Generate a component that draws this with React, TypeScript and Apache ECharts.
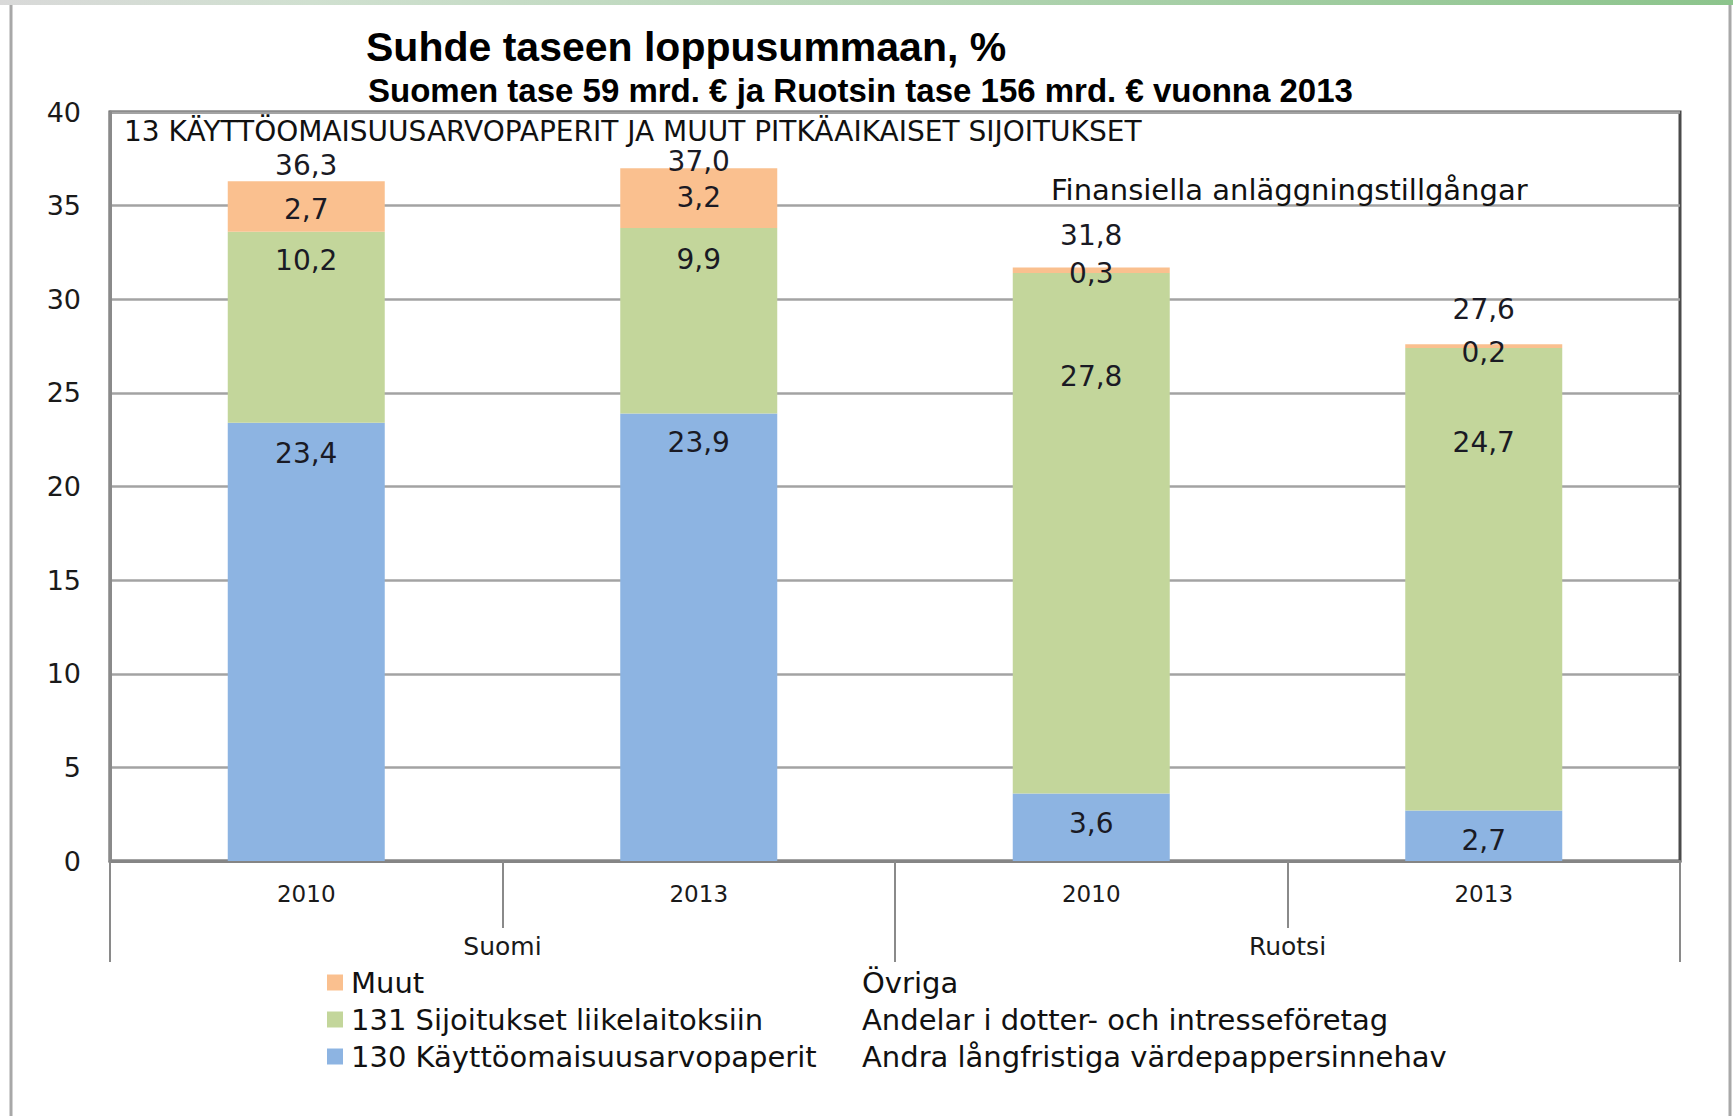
import React, { useEffect, useRef } from 'react';
import * as echarts from 'echarts';

// ---- data ----
const years = ['2010', '2013', '2010', '2013'];
const countries = ['Suomi', 'Ruotsi'];
const seriesNames = ['130 Käyttöomaisuusarvopaperit', '131 Sijoitukset liikelaitoksiin', 'Muut'];
const swedishNames = ['Övriga', 'Andelar i dotter- och intresseföretag', 'Andra långfristiga värdepappersinnehav'];
const securities = [23.4, 23.9, 3.6, 2.7];
const investments = [10.2, 9.9, 27.8, 24.7];
const other = [2.7, 3.2, 0.3, 0.2];
const totals = [36.3, 37.0, 31.8, 27.6];
const yMin = 0;
const yMax = 40;
const yStep = 5;
const titleText = 'Suhde taseen loppusummaan, %';
const subtitleText = 'Suomen tase 59 mrd. € ja Ruotsin tase 156 mrd. € vuonna 2013';
const panelTitle = '13 KÄYTTÖOMAISUUSARVOPAPERIT JA MUUT PITKÄAIKAISET SIJOITUKSET';
const swedishPanelTitle = 'Finansiella anläggningstillgångar';

// ---- styling ----
const FONT = '"DejaVu Sans", sans-serif';
const BOLD_FONT = '"Liberation Sans", Arial, sans-serif';
const colors = ['#8DB4E2', '#C3D69B', '#FAC08F'];
const labelColor = '#1a1a24';
const blueLabelOffsets = [12, 10, 11, 11];
const greenLabelOffsets = [10, 12, 84, 76];
const orangeLabelOffsets = [3, -1, 3, 6];
const totalLabelOffsets = [-16, -7, -30, -35];

const fmt = (v: number) => v.toFixed(1).replace('.', ',');

function App() {
  const ref = useRef<HTMLDivElement>(null);

  useEffect(() => {
    if (!ref.current) return;
    const chart = echarts.init(ref.current, null, { renderer: 'svg' });

    const labelBase = {
      show: true,
      color: labelColor,
      fontSize: 28,
      fontFamily: FONT,
      opacity: 1,
      formatter: (p: any) => fmt(typeof p.value === 'number' ? p.value : p.data.value),
    };

    const mk = (vals: number[], offs: number[]) =>
      vals.map((v, i) => ({ value: v, label: { offset: [0, offs[i]] } }));

    const legendTop = 964;
    const rowH = 37;

    const option: any = {
      animation: false,
      backgroundColor: '#ffffff',
      title: [
        {
          text: titleText,
          left: 361,
          top: 21,
          textStyle: { fontFamily: BOLD_FONT, fontWeight: 'bold', fontSize: 41, color: '#000' },
        },
        {
          text: subtitleText,
          left: 363,
          top: 69,
          textStyle: { fontFamily: BOLD_FONT, fontWeight: 'bold', fontSize: 33, color: '#000' },
        },
        {
          text: panelTitle,
          left: 124,
          top: 119,
          padding: 0,
          textStyle: { fontFamily: FONT, fontWeight: 'normal', fontSize: 28, lineHeight: 24, color: '#111' },
        },
        {
          text: swedishPanelTitle,
          left: 1046,
          top: 170,
          textStyle: { fontFamily: FONT, fontWeight: 'normal', fontSize: 29, color: '#111' },
        },
      ],
      grid: {
        left: 110,
        right: 53,
        top: 112,
        bottom: 255,
        show: true,
        borderColor: '#4a4a4a',
        borderWidth: 3,
        backgroundColor: 'transparent',
      },
      legend: {
        orient: 'vertical',
        left: 327,
        top: legendTop,
        padding: 0,
        itemGap: 0,
        itemWidth: 16,
        itemHeight: 16,
        icon: 'rect',
        data: [seriesNames[2], seriesNames[1], seriesNames[0]],
        textStyle: { fontFamily: FONT, fontSize: 29, color: '#111', lineHeight: rowH, padding: [0, 0, 0, 3] },
      },
      xAxis: [
        {
          type: 'category',
          data: years,
          position: 'bottom',
          axisLine: { show: true, onZero: false, lineStyle: { color: '#858585', width: 3 } },
          axisTick: { show: true, interval: 0, alignWithLabel: false, length: 67, lineStyle: { color: '#8a8a8a', width: 2 } },
          axisLabel: { fontFamily: FONT, fontSize: 23, color: '#1a1a1a', margin: 21, interval: 0 },
          splitLine: { show: false },
        },
        {
          type: 'category',
          data: countries,
          position: 'bottom',
          axisLine: { show: false, onZero: false },
          axisTick: { show: true, interval: 0, alignWithLabel: false, length: 101, lineStyle: { color: '#8a8a8a', width: 2 } },
          axisLabel: { fontFamily: FONT, fontSize: 25, color: '#1a1a1a', margin: 73, interval: 0 },
          splitLine: { show: false },
        },
      ],
      yAxis: {
        type: 'value',
        min: yMin,
        max: yMax,
        interval: yStep,
        axisLine: { show: true, lineStyle: { color: '#8a8a8a', width: 3 } },
        axisTick: { show: false },
        axisLabel: { fontFamily: FONT, fontSize: 27, color: '#1a1a1a', margin: 29 },
        splitLine: { show: true, lineStyle: { color: '#a3a3a3', width: 2.5 } },
      },
      series: [
        {
          name: seriesNames[0],
          type: 'bar',
          stack: 'total',
          xAxisIndex: 0,
          barCategoryGap: '60%',
          itemStyle: { color: colors[0] },
          label: { ...labelBase, position: 'insideTop' },
          data: mk(securities, blueLabelOffsets),
        },
        {
          name: seriesNames[1],
          type: 'bar',
          stack: 'total',
          xAxisIndex: 0,
          barCategoryGap: '60%',
          itemStyle: { color: colors[1] },
          label: { ...labelBase, position: 'insideTop' },
          data: mk(investments, greenLabelOffsets),
        },
        {
          name: seriesNames[2],
          type: 'bar',
          stack: 'total',
          xAxisIndex: 0,
          barCategoryGap: '60%',
          itemStyle: { color: colors[2] },
          label: { ...labelBase, position: 'inside' },
          data: mk(other, orangeLabelOffsets),
        },
        {
          name: 'Yhteensä',
          type: 'scatter',
          xAxisIndex: 0,
          symbolSize: 1,
          itemStyle: { color: 'rgba(255,255,255,0)', opacity: 1 },
          label: { ...labelBase, position: 'inside', lineHeight: 22 },
          data: mk(totals, totalLabelOffsets),
          z: 5,
        },
      ],
      graphic: [
        {
          type: 'rect',
          shape: { x: 0, y: 0, width: 1733, height: 5 },
          style: {
            fill: new echarts.graphic.LinearGradient(0, 0, 1, 0, [
              { offset: 0, color: '#d9d9d9' },
              { offset: 0.18, color: '#d0e0d0' },
              { offset: 1, color: '#8cc48c' },
            ]),
          },
          silent: true,
        },
        {
          type: 'line',
          shape: { x1: 11, y1: 5, x2: 11, y2: 1116 },
          style: { stroke: '#a8a8a8', lineWidth: 3 },
          silent: true,
        },
        {
          type: 'line',
          shape: { x1: 1730, y1: 5, x2: 1730, y2: 1116 },
          style: { stroke: '#a8a8a8', lineWidth: 3 },
          silent: true,
        },
        ...swedishNames.map((t, i) => ({
          type: 'text',
          x: 862,
          y: legendTop + rowH / 2 + i * rowH,
          style: {
            text: t,
            fontFamily: FONT,
            fontSize: 29,
            fill: '#111',
            verticalAlign: 'middle',
            align: 'left',
          },
          silent: true,
        })),
      ],
    };

    chart.setOption(option);
    return () => {
      chart.dispose();
    };
  }, []);

  return (
    <div
      ref={ref}
      style={{ position: 'fixed', left: 0, top: 0, width: 1733, height: 1116, background: '#fff' }}
    />
  );
}

export default App;
